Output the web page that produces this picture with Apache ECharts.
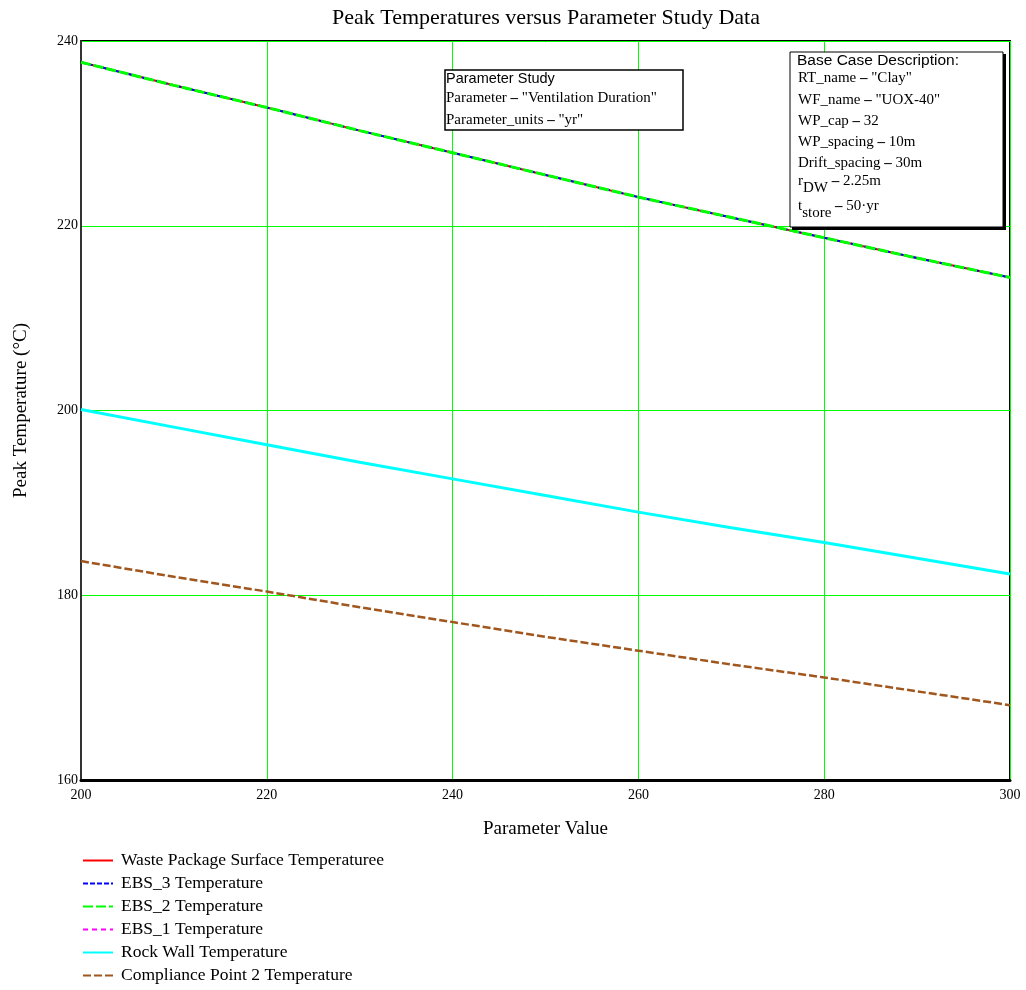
<!DOCTYPE html>
<html>
<head>
<meta charset="utf-8">
<script src="https://cdn.jsdelivr.net/npm/echarts@6/dist/echarts.min.js"></script>
<style>html,body{margin:0;padding:0;background:#fff}#c{width:1026px;height:990px}</style>
</head>
<body>
<div id="c"></div>
<script>
var params = [200, 210, 220, 230, 240, 250, 260, 270, 280, 290, 300];
var wpSurface = [237.7, 235.2, 232.8, 230.3, 227.9, 225.5, 223.1, 220.9, 218.7, 216.5, 214.4];
var ebs3 = [237.7, 235.2, 232.8, 230.3, 227.9, 225.5, 223.1, 220.9, 218.7, 216.5, 214.4];
var ebs2 = [237.7, 235.2, 232.8, 230.3, 227.9, 225.5, 223.1, 220.9, 218.7, 216.5, 214.4];
var ebs1 = [200.1, 198.2, 196.3, 194.4, 192.6, 190.8, 189.0, 187.3, 185.7, 184.0, 182.3];
var rockWall = [200.1, 198.2, 196.3, 194.4, 192.6, 190.8, 189.0, 187.3, 185.7, 184.0, 182.3];
var compliance2 = [183.7, 182.0, 180.4, 178.7, 177.1, 175.5, 174.0, 172.5, 171.1, 169.6, 168.1];
var xTicks = [200, 220, 240, 260, 280, 300];
var yTicks = [160, 180, 200, 220, 240];
var seriesNames = ['Waste Package Surface Temperaturee', 'EBS_3 Temperature', 'EBS_2 Temperature', 'EBS_1 Temperature', 'Rock Wall Temperature', 'Compliance Point 2 Temperature'];

function pairs(ys) { return params.map(function (x, i) { return [x, ys[i]]; }); }
var serif = 'Liberation Serif';
var sans = 'Liberation Sans';

var chart = echarts.init(document.getElementById('c'));
function mkSeries(name, ys, color, width, dash, z) {
  return {
    name: name, type: 'line', data: pairs(ys), symbol: 'none', z: z,
    lineStyle: { color: color, width: width, type: dash },
    itemStyle: { color: color }
  };
}
var richBox = {
  n: { fontFamily: serif, fontSize: 15, lineHeight: 20, verticalAlign: 'top' },
  e: { fontFamily: serif, fontSize: 15, fontWeight: 'bold', lineHeight: 20, verticalAlign: 'top' },
  s: { fontFamily: serif, fontSize: 15, lineHeight: 20, padding: [9, 0, 0, 0] }
};
function boxLine(x, y, str) {
  return { type: 'text', x: x, y: y, z: 11, style: { text: str, fill: '#000', fontFamily: serif, fontSize: 15, rich: richBox } };
}
chart.setOption({
  animation: false,
  title: {
    text: 'Peak Temperatures versus Parameter Study Data',
    left: 541, textAlign: 'center', top: 2,
    textStyle: { fontFamily: serif, fontSize: 22, fontWeight: 'normal', color: '#000' }
  },
  grid: { left: 81, right: 16, top: 41, bottom: 210, show: true, borderColor: '#000', borderWidth: 2, containLabel: false },
  xAxis: {
    type: 'value', min: xTicks[0], max: xTicks[xTicks.length - 1], interval: 20,
    name: 'Parameter Value', nameLocation: 'middle', nameGap: 40,
    nameTextStyle: { fontFamily: serif, fontSize: 19, color: '#000' },
    axisLine: { show: true, lineStyle: { color: '#000', width: 3 } },
    axisTick: { show: false },
    axisLabel: { fontFamily: serif, fontSize: 14, color: '#000', margin: 8 },
    splitLine: { show: true, lineStyle: { color: '#00ff00', width: 1 } }
  },
  yAxis: {
    type: 'value', min: yTicks[0], max: yTicks[yTicks.length - 1], interval: 20,
    name: 'Peak Temperature (\u00B0C)', nameLocation: 'middle', nameGap: 50,
    nameTextStyle: { fontFamily: serif, fontSize: 19, color: '#000' },
    axisLine: { show: true, lineStyle: { color: '#333', width: 2 } },
    axisTick: { show: false },
    axisLabel: { fontFamily: serif, fontSize: 14, color: '#000', margin: 3 },
    splitLine: { show: true, lineStyle: { color: '#00ff00', width: 1 } }
  },
  legend: {
    orient: 'vertical', left: 77, top: 846, itemWidth: 30, itemHeight: 14, itemGap: 4, height: 144,
    itemStyle: { opacity: 0 },
    textStyle: { fontFamily: serif, fontSize: 17.5, lineHeight: 19, color: '#000', padding: [0, 0, 0, 3] },
    data: seriesNames
  },
  series: [
    mkSeries(seriesNames[0], wpSurface, '#ff0000', 2, 'solid', 2),
    mkSeries(seriesNames[1], ebs3, '#0000ff', 2, [5, 2], 3),
    mkSeries(seriesNames[2], ebs2, '#00ff00', 3, [10, 3], 4),
    mkSeries(seriesNames[3], ebs1, '#ff00ff', 1, [5, 4], 3),
    mkSeries(seriesNames[4], rockWall, '#00ffff', 3, 'solid', 4),
    mkSeries(seriesNames[5], compliance2, '#a0561c', 2.5, [8, 3], 4)
  ],
  graphic: [
    { type: 'rect', shape: { x: 445, y: 70, width: 238, height: 60 }, style: { fill: '#fff', stroke: '#000', lineWidth: 1.5 }, z: 10 },
    { type: 'text', x: 446, y: 71, z: 11, style: { text: 'Parameter Study', fill: '#000', fontFamily: sans, fontSize: 14.5 } },
    boxLine(446, 91, '{n|Parameter }{e|\u2013}{n| "Ventilation Duration"}'),
    boxLine(446, 113, '{n|Parameter_units }{e|\u2013}{n| "yr"}'),

    { type: 'rect', shape: { x: 792, y: 54, width: 214, height: 176 }, style: { fill: '#000' }, z: 10 },
    { type: 'rect', shape: { x: 790, y: 52, width: 213, height: 175 }, style: { fill: '#fff', stroke: '#000', lineWidth: 1 }, z: 10 },
    { type: 'text', x: 797, y: 53, z: 11, style: { text: 'Base Case Description:', fill: '#000', fontFamily: sans, fontSize: 15.5 } },
    boxLine(798, 71, '{n|RT_name }{e|\u2013}{n| "Clay"}'),
    boxLine(798, 93, '{n|WF_name }{e|\u2013}{n| "UOX-40"}'),
    boxLine(798, 114, '{n|WP_cap }{e|\u2013}{n| 32}'),
    boxLine(798, 135, '{n|WP_spacing }{e|\u2013}{n| 10m}'),
    boxLine(798, 156, '{n|Drift_spacing }{e|\u2013}{n| 30m}'),
    boxLine(798, 174, '{n|r}{s|DW}{n| }{e|\u2013}{n| 2.25m}'),
    boxLine(798, 199, '{n|t}{s|store}{n| }{e|\u2013}{n| 50\u00B7yr}')
  ]
});
</script>
</body>
</html>
